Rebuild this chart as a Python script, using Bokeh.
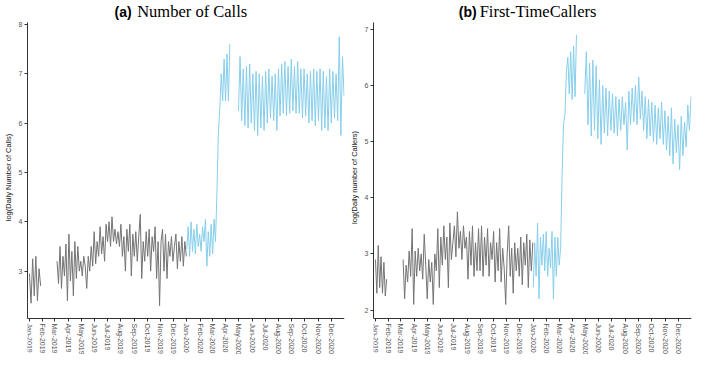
import pandas as pd
from bokeh.plotting import figure
from bokeh.layouts import row
from bokeh.models import FixedTicker, Range1d
from bokeh.core.properties import value
from bokeh.embed import file_html
from bokeh.resources import INLINE

ORIGIN = pd.Timestamp("2019-01-01")

# ---------------- data (log daily counts) ----------------
# Panel (a): Number of calls
calls_2019a_span = ("2019-01-01", "2019-01-27")
calls_2019a = [2.95, 2.35, 3.25, 2.5, 3.3, 2.4, 3.05, 2.7]

calls_2019b_span = ("2019-03-06", "2019-12-31")
calls_2019b = [3.2, 2.75, 3.5, 2.65, 3.3, 2.9, 3.55,
               2.4, 3.75, 2.8, 3.4, 2.5, 3.6, 2.85, 3.5, 3.0,
               3.2, 2.9, 3.3, 3.1, 2.65, 3.3, 3.0, 3.5, 3.1,
               3.8, 3.15, 3.6, 3.3, 3.9, 3.35, 3.7, 3.2, 3.95,
               3.6, 4.0, 3.5, 4.1, 3.6, 3.85, 3.55, 3.8, 3.5,
               3.95, 3.3, 3.7, 3.0, 3.85, 3.4, 3.95, 2.9, 3.75,
               3.3, 3.8, 3.2, 3.7, 4.15, 2.85, 3.6, 3.2, 3.8,
               3.3, 3.85, 3.0, 3.7, 3.4, 3.9, 2.85, 3.6, 2.3,
               3.6, 3.85, 3.0, 3.75, 2.85, 3.6, 3.3, 3.7, 3.2,
               3.5, 3.75, 3.05, 3.6, 3.2, 3.7, 3.1, 3.6, 3.3]

calls_2020a_span = ("2020-01-01", "2020-04-10")
calls_2020a = [3.45, 3.9, 3.3, 4.0, 3.4, 3.85, 3.35, 3.95, 3.5, 3.75,
               3.4, 3.9, 3.6, 4.05, 3.1, 3.8, 3.3, 3.95, 3.35, 4.05,
               3.6, 4.6, 5.8, 6.3, 7.0, 6.45, 7.3, 6.45, 7.4, 6.45, 7.6]

calls_2020b_span = ("2020-04-30", "2020-12-31")
calls_2020b = [6.25, 7.35, 6.05, 7.1, 5.95, 7.15, 5.9, 7.2, 6.0,
               7.0, 5.85, 7.05, 5.75, 7.0, 5.9, 6.95, 5.85,
               7.05, 6.0, 7.1, 6.1, 6.95, 6.05, 7.0, 5.85,
               7.1, 6.15, 7.2, 6.2, 7.25, 6.15, 7.15, 6.2,
               7.3, 6.25, 7.15, 6.2, 7.25, 6.2, 7.1, 6.1,
               7.1, 6.15, 7.0, 6.0, 7.05, 6.05, 7.1, 5.95,
               7.05, 6.05, 7.1, 5.85, 7.05, 5.9, 6.95, 5.85, 7.1,
               6.0, 7.05, 6.1, 7.0, 6.05, 7.75, 5.75, 7.35, 6.55]

# Panel (b): First-time callers
first_2019a_span = ("2019-01-01", "2019-01-27")
first_2019a = [2.9, 2.3, 3.15, 2.4, 2.95, 2.3, 2.85, 2.25, 2.55]

first_2019b_span = ("2019-03-06", "2019-12-31")
first_2019b = [2.9, 2.2, 2.8, 2.5, 3.05, 2.6, 3.45, 2.1,
               3.05, 2.6, 3.1, 2.7, 3.0, 2.55, 3.35, 2.8,
               2.2, 2.9, 2.5, 2.85, 2.1, 3.0, 2.7, 3.45, 2.4,
               3.3, 2.8, 3.5, 2.9, 3.3, 2.4, 3.55, 2.9, 3.2,
               3.5, 2.95, 3.75, 3.1, 3.4, 2.9, 3.5, 3.1, 3.3,
               2.55, 3.4, 2.8, 3.5, 2.6, 3.2, 2.7, 3.45, 2.7,
               3.5, 2.6, 3.3, 2.8, 3.45, 2.6, 3.2, 2.9, 3.4,
               2.5, 3.2, 2.7, 3.45, 2.5, 3.1, 2.75, 2.1, 3.0,
               3.5, 2.6, 3.1, 2.3, 3.2, 2.7, 3.1, 2.6, 3.3,
               2.45, 3.2, 2.8, 3.35, 2.4, 3.25, 2.7, 3.2]

first_2020a_span = ("2020-01-01", "2020-04-10")
first_2020a = [2.4, 3.2, 2.6, 3.55, 2.2, 3.3, 2.8, 3.35, 2.7, 3.4,
               2.6, 3.1, 2.75, 3.4, 2.2, 3.3, 2.6, 3.3, 2.8, 3.1,
               4.4, 5.3, 5.5, 6.25, 6.5, 5.85, 6.6, 5.75, 6.7, 5.8, 6.9]

first_2020b_span = ("2020-04-29", "2020-12-31")
first_2020b = [5.85, 6.6, 5.3, 6.4, 5.1, 6.45, 5.2, 6.35, 5.05,
               6.1, 4.95, 6.0, 5.15, 5.95, 5.1, 5.9, 5.2,
               5.85, 5.15, 5.8, 5.1, 5.75, 5.2, 5.8, 5.3,
               5.7, 4.85, 5.9, 5.3, 5.95, 5.35, 6.0, 5.3,
               6.15, 5.4, 5.9, 5.2, 5.8, 5.05, 5.75, 5.1,
               5.7, 5.0, 5.65, 4.95, 5.6, 5.05, 5.7, 4.95,
               5.55, 4.85, 5.45, 4.75, 5.6, 4.6, 5.4, 4.8,
               5.3, 4.5, 5.45, 4.75, 5.35, 4.9, 5.65, 5.2, 5.8]

month_starts = pd.date_range("2019-01-01", "2020-12-01", freq="MS")
month_labels = [d.strftime("%b-%Y") for d in month_starts]

calls_yticks = [3, 4, 5, 6, 7, 8]
first_yticks = [2, 3, 4, 5, 6, 7]

GRAY = "#747474"
BLUE = "#87ceeb"

H = 354
AX_TOP = 22      # px from figure top to top of y axis
AX_BOT = 318     # px from figure top to x axis line


def days(span, n):
    d = pd.date_range(pd.Timestamp(span[0]), pd.Timestamp(span[1]), periods=n)
    return [(t - ORIGIN).total_seconds() / 86400.0 for t in d]


def make_panel(width, ylo, yhi, yticks, ylabel, segments, tag, title, tag_x, title_x):
    ppu = (AX_BOT - AX_TOP) / (yhi - ylo)
    y_start = ylo - (H - AX_BOT) / ppu
    y_end = yhi + AX_TOP / ppu
    p = figure(width=width, height=H, output_backend="svg", toolbar_location=None,
               x_range=Range1d(-4.5, 731), y_range=Range1d(y_start, y_end),
               min_border_left=0, min_border_right=2, min_border_top=0,
               min_border_bottom=0)
    p.xgrid.visible = False
    p.ygrid.visible = False
    p.outline_line_color = None
    p.background_fill_color = "white"
    p.border_fill_color = "white"

    for span, vals, col in segments:
        p.line(days(span, len(vals)), vals, line_color=col, line_width=1)

    tick_days = [int((d - ORIGIN).days) for d in month_starts]
    xa = p.xaxis[0]
    xa.fixed_location = ylo
    xa.ticker = FixedTicker(ticks=tick_days)
    xa.major_label_overrides = {t: l for t, l in zip(tick_days, month_labels)}
    xa.major_label_orientation = "vertical"
    ya = p.yaxis[0]
    ya.bounds = (ylo, yhi)
    ya.ticker = FixedTicker(ticks=yticks)
    ya.axis_label = ylabel
    ya.axis_label_text_font = "Liberation Sans"
    ya.axis_label_text_font_style = "normal"
    ya.axis_label_text_font_size = "7.5px"
    ya.axis_label_text_color = "#111111"
    ya.axis_label_standoff = 3
    for ax in (xa, ya):
        ax.axis_line_color = "#333333"
        ax.axis_line_width = 1
        ax.major_tick_line_color = "#333333"
        ax.major_tick_in = 0
        ax.major_tick_out = 3
        ax.minor_tick_line_color = None
        ax.major_label_text_font = "Liberation Sans"
        ax.major_label_text_font_size = "7px"
        ax.major_label_text_color = "#555555"
        ax.major_label_standoff = 2

    title_y = yhi + 11 / ppu
    p.text(x=[tag_x], y=[title_y], text=[tag], text_align="right",
           text_baseline="alphabetic", text_font=value("Liberation Sans"),
           text_font_style="bold", text_font_size=value("14px"), text_color="black")
    p.text(x=[title_x], y=[title_y], text=[title], text_align="left",
           text_baseline="alphabetic", text_font=value("Liberation Serif"),
           text_font_size=value("16.5px"), text_color="black")
    return p


p1 = make_panel(346, 2.04, 8.04, calls_yticks, "log(Daily Number of Calls)",
                [(calls_2019a_span, calls_2019a, GRAY), (calls_2019b_span, calls_2019b, GRAY),
                 (calls_2020a_span, calls_2020a, BLUE), (calls_2020b_span, calls_2020b, BLUE)],
                "(a)", "Number of Calls", 237, 250)
p2 = make_panel(347, 1.85, 7.12, first_yticks, "log(Daily number of Callers)",
                [(first_2019a_span, first_2019a, GRAY), (first_2019b_span, first_2019b, GRAY),
                 (first_2020a_span, first_2020a, BLUE), (first_2020b_span, first_2020b, BLUE)],
                "(b)", "First-TimeCallers", 234, 241)

layout = row(p1, p2)
open("out.html", "w").write(file_html(layout, INLINE))
